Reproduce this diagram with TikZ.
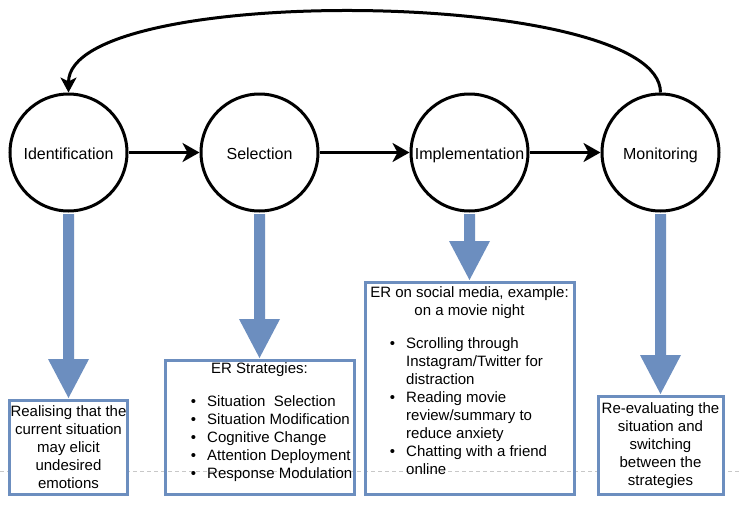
\documentclass[tikz,border=0pt]{standalone}
\usepackage{fontspec}
\setmainfont{Liberation Sans}
\usetikzlibrary{arrows.meta,calc}
\definecolor{erblue}{HTML}{6C8EBF}
\definecolor{pagegray}{HTML}{C8C8C8}
\newcommand\erbul{\llap{\textbullet\hspace{11pt}}}
\newcommand\erarrow[2]{%
  \fill[erblue] ($(#1.south)+(-5.5,1.5)$) -- ($(#2.north)+(-5.5,-40)$)
    -- ($(#2.north)+(-20.5,-40)$) -- ($(#2.north)+(0,-1)$)
    -- ($(#2.north)+(20.5,-40)$) -- ($(#2.north)+(5.5,-40)$)
    -- ($(#1.south)+(5.5,1.5)$) -- cycle;}
\begin{document}
\begin{tikzpicture}[x=1pt,y=-1pt,
  stage/.style={circle, draw=black, line width=3pt, fill=white, minimum size=117pt,
    inner sep=0pt, font=\fontsize{16}{19}\selectfont, text height=14pt, text depth=1pt},
  infobox/.style={draw=erblue, line width=3pt, inner sep=0pt, align=center,
    font=\fontsize{15}{18}\selectfont},
  boxtext/.style={inner sep=0pt, font=\fontsize{15}{18}\selectfont},
  flow/.style={line width=3pt, -{Stealth[length=17pt,width=19pt,inset=5pt]}},
  loopback/.style={line width=3pt, -{Stealth[length=15pt,width=16pt,inset=4pt]}},
]
\useasboundingbox (0,0) rectangle (740,509);
\fill[white] (0,0) rectangle (740,509);

% page break line
\draw[pagegray, line width=0.8pt, dash pattern=on 4pt off 3pt] (0,471.5) -- (740,471.5);

% stages
\node[stage] (ident) at (68.5,152.5) {Identification};
\node[stage] (sel)   at (259.5,152.5) {Selection};
\node[stage] (impl)  at (469.5,152.5) {Implementation};
\node[stage] (mon)   at (660.5,152.5) {Monitoring};

\draw[flow] (ident) -- (sel);
\draw[flow] (sel) -- (impl);
\draw[flow] (impl) -- (mon);
\draw[loopback] (mon.north) .. controls (660.5,-12) and (68.5,-18) .. (ident.north);

% boxes
\node[infobox, fill=white, minimum width=118pt, minimum height=94pt] (box1) at (68.5,447.5)
  {Realising that the\\current situation\\may elicit\\undesired\\emotions};
\node[infobox, minimum width=189pt, minimum height=134pt] (box2) at (259.5,427.5) {};
\node[infobox, minimum width=209pt, minimum height=212pt] (box3) at (469.5,388.5) {};
\node[infobox, fill=white, minimum width=125pt, minimum height=98pt] (box4) at (660.5,445.5)
  {Re-evaluating the\\situation and\\switching\\between the\\strategies};

\node[boxtext, anchor=base] (title2) at (259.5,373) {ER Strategies:};
\node[boxtext, anchor=base west] (list2) at (207,406) {\begin{tabular}[t]{@{}l@{}}
\erbul Situation\ \ Selection\\
\erbul Situation Modification\\
\erbul Cognitive Change\\
\erbul Attention Deployment\\
\erbul Response Modulation
\end{tabular}};

\node[boxtext, anchor=base] (title3) at (469.5,297) {\begin{tabular}[t]{@{}c@{}}
ER on social media, example:\\on a movie night\end{tabular}};
\node[boxtext, anchor=base west] (list3) at (406,348) {\begin{tabular}[t]{@{}l@{}}
\erbul Scrolling through\\
Instagram/Twitter for\\
distraction\\
\erbul Reading movie\\
review/summary to\\
reduce anxiety\\
\erbul Chatting with a friend\\
online
\end{tabular}};

% blue arrows
\erarrow{ident}{box1}
\erarrow{sel}{box2}
\erarrow{impl}{box3}
\erarrow{mon}{box4}
\end{tikzpicture}
\end{document}
